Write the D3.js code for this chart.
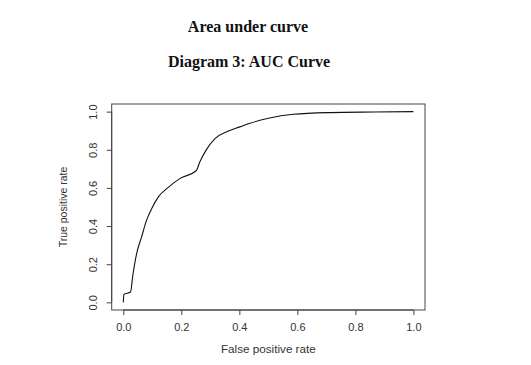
<!DOCTYPE html>
<html>
<head>
<meta charset="utf-8">
<script src="https://cdn.jsdelivr.net/npm/d3@7"></script>
<style>
  body { margin: 0; background: #fff; }
  svg { display: block; }
  .title { font-family: "Liberation Serif", "Times New Roman", serif; font-weight: bold; fill: #111; }
  .tick text, .lab { font-family: "Liberation Sans", Arial, sans-serif; fill: #333; }
</style>
</head>
<body>
<svg id="chart" width="531" height="365"></svg>
<script>
// ROC curve points
const fpr = [0, 0.002, 0.025, 0.032, 0.046, 0.063, 0.08, 0.098, 0.121, 0.155, 0.196, 0.251,
  0.264, 0.287, 0.316, 0.356, 0.402, 0.437, 0.5, 0.586, 0.713, 0.862, 1.0];
const tpr = [0, 0.042, 0.054, 0.133, 0.256, 0.343, 0.43, 0.492, 0.553, 0.603, 0.65, 0.69,
  0.737, 0.802, 0.859, 0.894, 0.92, 0.939, 0.965, 0.986, 0.995, 0.998, 1.0];
const xTicks = [0, 0.2, 0.4, 0.6, 0.8, 1.0];
const yTicks = [0, 0.2, 0.4, 0.6, 0.8, 1.0];

const svg = d3.select("#chart");

// R pads the data range by 4% on each side
const x = d3.scaleLinear().domain([-0.04, 1.04]).range([111.7, 425]);
const y = d3.scaleLinear().domain([-0.04, 1.04]).range([310, 104]);

svg.append("text").attr("class", "title")
  .attr("x", 248).attr("y", 32).attr("text-anchor", "middle")
  .style("font-size", "16px").text("Area under curve");
svg.append("text").attr("class", "title")
  .attr("x", 249).attr("y", 67).attr("text-anchor", "middle")
  .style("font-size", "16px").text("Diagram 3: AUC Curve");

// box
svg.append("rect")
  .attr("x", x(-0.04)).attr("y", y(1.04))
  .attr("width", x(1.04) - x(-0.04)).attr("height", y(-0.04) - y(1.04))
  .attr("fill", "none").attr("stroke", "#444").attr("stroke-width", 1);

// x axis
const xAxis = svg.append("g")
  .attr("transform", `translate(0,${y(-0.04)})`)
  .call(d3.axisBottom(x).tickValues(xTicks).tickFormat(d3.format(".1f")).tickSizeOuter(0).tickSize(5).tickPadding(8));
xAxis.select(".domain").attr("d", `M${x(0)},0H${x(1)}`).attr("stroke", "#444");
xAxis.selectAll(".tick line").attr("stroke", "#444");
xAxis.selectAll(".tick text").style("font-size", "11px");

// y axis
const yAxis = svg.append("g")
  .attr("transform", `translate(${x(-0.04)},0)`)
  .call(d3.axisLeft(y).tickValues(yTicks).tickFormat(d3.format(".1f")).tickSizeOuter(0).tickSize(5));
yAxis.select(".domain").attr("d", `M0,${y(0)}V${y(1)}`).attr("stroke", "#444");
yAxis.selectAll(".tick line").attr("stroke", "#444");
yAxis.selectAll(".tick text")
  .style("font-size", "11px")
  .attr("x", null).attr("dy", null)
  .attr("text-anchor", "middle")
  .attr("transform", "translate(-19,0) rotate(-90)")
  .attr("dominant-baseline", "central");

// axis titles
svg.append("text").attr("class", "lab")
  .attr("x", x(0.5)).attr("y", 353).attr("text-anchor", "middle")
  .style("font-size", "11.7px").text("False positive rate");
svg.append("text").attr("class", "lab")
  .attr("transform", `translate(67,${y(0.5)}) rotate(-90)`)
  .attr("text-anchor", "middle")
  .style("font-size", "10.5px").text("True positive rate");

// curve
const pts = fpr.map((d, i) => [x(d), y(tpr[i])]);
svg.append("path")
  .attr("d", d3.line().curve(d3.curveMonotoneX)(pts))
  .attr("fill", "none").attr("stroke", "#111").attr("stroke-width", 1.1);
</script>
</body>
</html>
